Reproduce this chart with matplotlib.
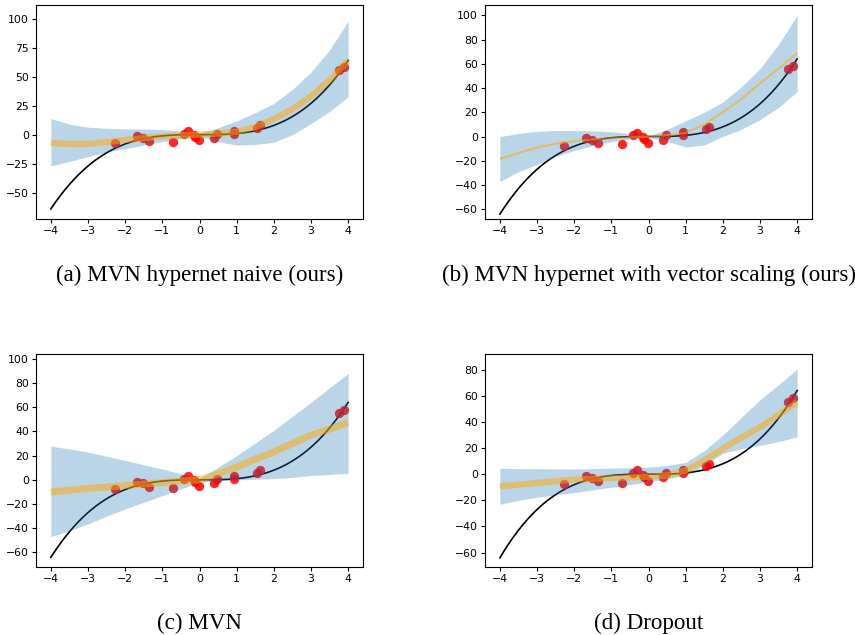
import numpy as np
import matplotlib
matplotlib.use("Agg")
import matplotlib.pyplot as plt

# ---- data ----
x_pts = [-2.28, -1.68, -1.52, -1.37, -0.71, -0.43, -0.32, -0.15, -0.12, -0.02,
         0.38, 0.46, 0.92, 0.94, 1.55, 1.63, 3.75, 3.88]
y_pts = [-7.5, -1.5, -3.0, -5.5, -6.5, 1.0, 3.0, -0.5, -2.0, -5.0,
         -2.5, 1.0, 3.5, 1.0, 6.0, 8.0, 55.5, 58.0]

x_grid = [-4, -3.5, -3, -2.5, -2, -1.5, -1, -0.5, 0, 0.5, 1, 1.5, 2, 2.5, 3, 3.5, 4]

# (a) MVN hypernet naive
a_mean = [-7, -8, -8, -6.5, -4.5, -3, -1.5, -0.6, 0, 1, 2.5, 6.5, 13.5, 22, 33, 47, 64]
a_up = [14, 9, 6.5, 5.5, 5, 4.8, 4.5, 3, 1, 6, 12, 19, 27, 39, 54, 73, 98]
a_lo = [-27, -23, -19, -15, -12, -9, -6, -3.5, -1.5, -6, -9, -8.5, -6.5, 0, 9.5, 20, 32.5]

# (b) MVN hypernet with vector scaling
b_mean = [-18.5, -13.5, -9, -6, -3.7, -2.4, -1.4, -0.6, 0, 1.2, 3, 10, 20, 31, 44, 56, 69]
b_up = [0, 2.5, 4.3, 5, 5, 4.7, 4, 2.5, 0.5, 6, 13, 20, 28.5, 41, 56, 76, 100]
b_lo = [-37, -29, -23, -16.5, -11.5, -7.5, -4.3, -2, -0.5, -4, -8.6, -7, 0, 6, 14, 24, 37]

# (c) MVN
c_mean = [-10, -8.5, -7, -6, -4.7, -3.5, -2.3, -1.1, 0, 5, 10.5, 17, 23, 30, 37, 42, 47.5]
c_up = [28, 25.5, 23, 19.5, 16, 12.5, 9, 5, 1, 10.5, 20, 30.5, 41, 52.5, 64, 76, 88]
c_lo = [-47, -42, -36.4, -30, -24, -18.5, -13, -7.5, -2, -0.5, 0, 0.5, 1, 2, 3.5, 4.5, 5.5]

# (d) Dropout
d_mean = [-9.2, -8, -6.7, -5.3, -4, -3.5, -3, -2.4, -1.8, -1, 2.8, 10.5, 19.5, 28, 36, 45.5, 55]
d_up = [4.6, 4.3, 4.2, 4.1, 4, 4.3, 4.6, 5, 5.4, 6.7, 9, 18, 30, 43.5, 57, 68.5, 80.5]
d_lo = [-23, -20, -17.7, -15.8, -14, -12, -10, -8, -6, -3.5, -1, 6.7, 16, 19.5, 22, 25, 28.5]

captions = ["(a) MVN hypernet naive (ours)",
            "(b) MVN hypernet with vector scaling (ours)",
            "(c) MVN",
            "(d) Dropout"]
ylims = [(-72.7, 111.8), (-68, 108.5), (-72, 104), (-71, 92)]
yticks = [[-50, -25, 0, 25, 50, 75, 100],
          [-60, -40, -20, 0, 20, 40, 60, 80, 100],
          [-60, -40, -20, 0, 20, 40, 60, 80, 100],
          [-60, -40, -20, 0, 20, 40, 60, 80]]
means = [a_mean, b_mean, c_mean, d_mean]
ups = [a_up, b_up, c_up, d_up]
los = [a_lo, b_lo, c_lo, d_lo]
mean_lw = [4.5, 1.6, 5, 4.5]

W, H = 855, 635
fig = plt.figure(figsize=(W / 100, H / 100), dpi=100)

boxes = [(36, 5, 363, 219), (485, 5, 812, 219), (36, 354, 363, 567), (485, 354, 812, 567)]
cap_y = [275, 275, 623, 623]

xs = np.linspace(-4, 4, 200)
for i in range(4):
    l, t, r, b = boxes[i]
    ax = fig.add_axes([l / W, 1 - b / H, (r - l) / W, (b - t) / H])
    ax.plot(xs, xs ** 3, color="black", lw=1.2, zorder=1)
    ax.scatter(x_pts, y_pts, color="red", s=45, alpha=0.85, lw=0, zorder=2)
    ax.fill_between(x_grid, los[i], ups[i], color="#1f77b4", alpha=0.3, lw=0, zorder=3)
    ax.plot(x_grid, means[i], color="orange", alpha=0.5, lw=mean_lw[i], zorder=4,
            solid_capstyle="butt")
    ax.set_xlim(-4.4, 4.4)
    ax.set_ylim(*ylims[i])
    ax.set_xticks([-4, -3, -2, -1, 0, 1, 2, 3, 4])
    ax.set_yticks(yticks[i])
    ax.tick_params(labelsize=7.8, length=3, width=0.8, pad=2)
    for s in ax.spines.values():
        s.set_linewidth(0.8)
    fig.text(((l + r) / 2) / W, 1 - cap_y[i] / H, captions[i], ha="center", va="center",
             fontsize=16.6, family="Liberation Serif")

fig.savefig("out.png", dpi=100)
